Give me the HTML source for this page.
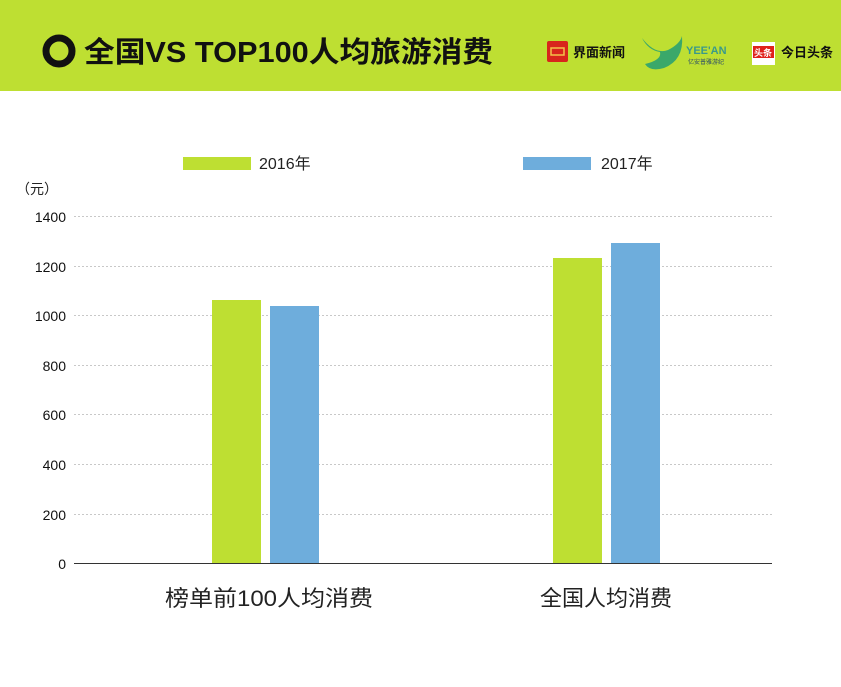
<!DOCTYPE html>
<html><head><meta charset="utf-8"><style>
body{margin:0;width:841px;height:682px;background:#fff;overflow:hidden;font-family:"Liberation Sans","Noto Sans CJK SC",sans-serif;}
</style></head><body>
<svg width="841" height="682" xmlns="http://www.w3.org/2000/svg" font-family="Liberation Sans, Noto Sans CJK SC, sans-serif">
<rect x="0" y="0" width="841" height="91" fill="#bedf32"/>
<circle cx="59" cy="51" r="13" fill="none" stroke="#111" stroke-width="7"/>
<text x="84" y="62" font-size="29" font-weight="bold" fill="#111" textLength="409" lengthAdjust="spacingAndGlyphs">全国VS TOP100人均旅游消费</text>
<rect x="547" y="41" width="21" height="21" rx="2" fill="#d8251c"/>
<rect x="551" y="48" width="13" height="7" fill="none" stroke="#f3c24a" stroke-width="1.5"/>
<text x="573" y="57" font-size="13" font-weight="bold" fill="#111">界面新闻</text>
<path d="M642 38 Q655 55 668 50 Q680 44 682 36 Q684 60 664 68 Q650 72 645 64 Q662 60 660 52 Q648 50 642 38Z" fill="#3aa86a"/>
<text x="686" y="54" font-size="11" font-weight="bold" fill="#3a9a8a">YEE'AN</text>
<text x="688" y="64" font-size="6" fill="#2a4a6a">亿安普雅游纪</text>
<rect x="752" y="42" width="23" height="23" fill="#fff"/>
<rect x="753" y="46" width="21" height="12" fill="#e0221c"/>
<text x="754" y="56" font-size="9" font-weight="bold" fill="#fff">头条</text>
<text x="781" y="57" font-size="13" font-weight="bold" fill="#111">今日头条</text>
<rect x="183" y="157" width="68" height="13" fill="#bedf32"/>
<text x="259" y="169" font-size="16" fill="#222">2016年</text>
<rect x="523" y="157" width="68" height="13" fill="#6eaddc"/>
<text x="601" y="169" font-size="16" fill="#222">2017年</text>
<text x="16" y="194" font-size="14" fill="#222">（元）</text>
<g stroke="#c8c8c8" stroke-dasharray="2,2" stroke-width="1">
<line x1="74" y1="216.5" x2="772" y2="216.5"/><line x1="74" y1="266.5" x2="772" y2="266.5"/>
<line x1="74" y1="315.5" x2="772" y2="315.5"/><line x1="74" y1="365.5" x2="772" y2="365.5"/>
<line x1="74" y1="414.5" x2="772" y2="414.5"/><line x1="74" y1="464.5" x2="772" y2="464.5"/>
<line x1="74" y1="514.5" x2="772" y2="514.5"/></g>
<g font-size="14" fill="#111" text-anchor="end">
<text x="66" y="222">1400</text><text x="66" y="272">1200</text><text x="66" y="321">1000</text>
<text x="66" y="371">800</text><text x="66" y="420">600</text><text x="66" y="470">400</text>
<text x="66" y="520">200</text><text x="66" y="569">0</text></g>
<rect x="212" y="300" width="49" height="263" fill="#bedf32"/>
<rect x="270" y="306" width="49" height="257" fill="#6eaddc"/>
<rect x="553" y="258" width="49" height="305" fill="#bedf32"/>
<rect x="611" y="243" width="49" height="320" fill="#6eaddc"/>
<line x1="74" y1="563.5" x2="772" y2="563.5" stroke="#333" stroke-width="1"/>
<g font-size="22" fill="#222" text-anchor="middle">
<text x="269" y="606" textLength="208" lengthAdjust="spacingAndGlyphs">榜单前100人均消费</text><text x="606" y="606">全国人均消费</text></g>
</svg>
</body></html>
